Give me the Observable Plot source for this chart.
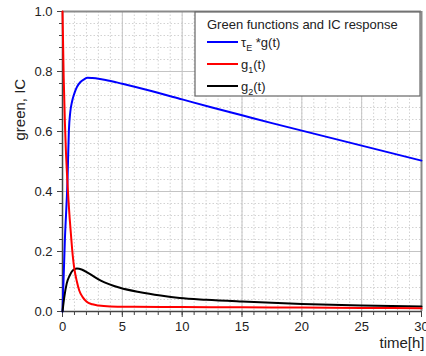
<!DOCTYPE html>
<html>
<head>
<meta charset="utf-8">
<script src="https://cdn.jsdelivr.net/npm/d3@7"></script>
<script src="https://cdn.jsdelivr.net/npm/@observablehq/plot@0.6"></script>
<style>
  html, body { margin: 0; padding: 0; background: #fff; }
  #chart svg { display: block; }
</style>
</head>
<body>
<div id="chart"></div>
<script>
// ---- data ----
const blueT = [0, 0.2, 0.42, 0.53, 0.65, 0.8, 1.0, 1.2, 1.5, 1.8, 2.1, 2.5, 3, 3.6, 5, 7.5, 10, 12.5, 15, 17.5, 20, 22.5, 25, 27.5, 30];
const blueV = [0, 0.24, 0.44, 0.6, 0.665, 0.7, 0.728, 0.748, 0.765, 0.774, 0.779, 0.778, 0.776, 0.772, 0.759, 0.734, 0.707, 0.68, 0.654, 0.628, 0.603, 0.578, 0.553, 0.528, 0.503];

const redT = [0, 0.1, 0.2, 0.3, 0.4, 0.5, 0.6, 0.7, 0.8, 0.9, 1.0, 1.2, 1.4, 1.7, 2.0, 2.5, 3, 4, 6, 10, 15, 20, 25, 30];
const redV = [1.0, 0.78, 0.63, 0.52, 0.44, 0.37, 0.31, 0.26, 0.21, 0.17, 0.14, 0.1, 0.07, 0.047, 0.033, 0.024, 0.02, 0.017, 0.016, 0.015, 0.014, 0.013, 0.012, 0.011];

const blackT = [0, 0.15, 0.35, 0.6, 0.85, 1.2, 1.6, 2.2, 3.2, 4.8, 6.5, 8.2, 9.8, 12, 15, 20, 25, 30];
const blackV = [0, 0.048, 0.093, 0.12, 0.137, 0.143, 0.14, 0.127, 0.103, 0.079, 0.064, 0.053, 0.045, 0.039, 0.033, 0.025, 0.02, 0.017];

const xMajor = [0, 5, 10, 15, 20, 25, 30];
const xMinor = d3.range(0, 31, 1);
const yMajor = [0, 0.2, 0.4, 0.6, 0.8, 1.0];
const yMinor = d3.range(0, 26).map(i => i * 0.04);

const legendTitle = "Green functions and IC response";
const xLabel = "time[h]";
const yLabel = "green, IC";

const toRows = (T, V) => T.map((t, i) => ({t, v: V[i]}));
const blue = toRows(blueT, blueV);
const red = toRows(redT, redV);
const black = toRows(blackT, blackV);

const plot = Plot.plot({
  width: 426,
  height: 356,
  marginLeft: 62,
  marginRight: 5,
  marginTop: 11,
  marginBottom: 45,
  x: {domain: [0, 30]},
  y: {domain: [0, 1]},
  style: {fontFamily: "'Liberation Sans', Arial, sans-serif", fontSize: "13px", color: "#222", background: "#fff"},
  marks: [
    Plot.gridX(xMinor, {stroke: "#d2d2d2", strokeOpacity: 1, strokeDasharray: "1.5,2"}),
    Plot.gridY(yMinor, {stroke: "#d2d2d2", strokeOpacity: 1, strokeDasharray: "1.5,2"}),
    Plot.gridX(xMajor, {stroke: "#c4c4c4", strokeOpacity: 1}),
    Plot.gridY(yMajor, {stroke: "#c4c4c4", strokeOpacity: 1}),
    Plot.ruleY([1], {stroke: "#8a8a8a", strokeWidth: 2}),
    Plot.ruleX([30], {stroke: "#8a8a8a", strokeWidth: 2}),
    Plot.ruleY([0], {stroke: "#444", strokeWidth: 1.5}),
    Plot.ruleX([0], {stroke: "#444", strokeWidth: 1.5}),
    Plot.axisX({ticks: xMinor, tickSize: 4, tickFormat: () => "", label: null, stroke: "#444"}),
    Plot.axisX({ticks: xMajor, tickSize: 6, tickPadding: 4, label: null, stroke: "#444", fontSize: 13}),
    Plot.axisY({ticks: yMinor, tickSize: 3, tickFormat: () => "", label: null, stroke: "#444"}),
    Plot.axisY({ticks: yMajor, tickSize: 5, tickPadding: 5, tickFormat: d3.format(".1f"), label: null, stroke: "#444", fontSize: 13}),
    Plot.line(blue, {x: "t", y: "v", stroke: "#0000ff", strokeWidth: 2, curve: "monotone-x"}),
    Plot.line(black, {x: "t", y: "v", stroke: "#000000", strokeWidth: 2, curve: "monotone-x"}),
    Plot.line(red, {x: "t", y: "v", stroke: "#ff0000", strokeWidth: 2, curve: "monotone-x"}),
    Plot.text([yLabel], {frameAnchor: "left", rotate: -90, dx: -42, dy: -21, fontSize: 15, fill: "#222"}),
    Plot.text([xLabel], {frameAnchor: "bottom-right", textAnchor: "end", dx: 3, dy: 36, fontSize: 15, fill: "#222"})
  ]
});

document.getElementById("chart").appendChild(plot);

// ---- legend box ----
const svg = d3.select(plot);
const lg = svg.append("g")
  .attr("font-family", "'Liberation Sans', Arial, sans-serif")
  .attr("text-anchor", "start")
  .attr("fill", "#222");
lg.append("rect").attr("x", 195).attr("y", 12).attr("width", 225).attr("height", 84)
  .attr("fill", "#fff").attr("stroke", "#666").attr("stroke-width", 1.2);
lg.append("text").attr("x", 207).attr("y", 29).attr("font-size", 13).text(legendTitle);
const entries = [
  {color: "#0000ff", y: 42, main: "\u03C4", sub: "E", rest: " *g(t)"},
  {color: "#ff0000", y: 64, main: "g", sub: "1", rest: "(t)"},
  {color: "#000000", y: 86, main: "g", sub: "2", rest: "(t)"}
];
entries.forEach(e => {
  lg.append("line").attr("x1", 207).attr("x2", 238).attr("y1", e.y).attr("y2", e.y)
    .attr("stroke", e.color).attr("stroke-width", 2);
  const t = lg.append("text").attr("x", 241).attr("y", e.y + 4.5).attr("font-size", 13);
  t.append("tspan").text(e.main);
  t.append("tspan").attr("font-size", 9).attr("dy", 4).text(e.sub);
  t.append("tspan").attr("dy", -4).text(e.rest);
});
</script>
</body>
</html>
